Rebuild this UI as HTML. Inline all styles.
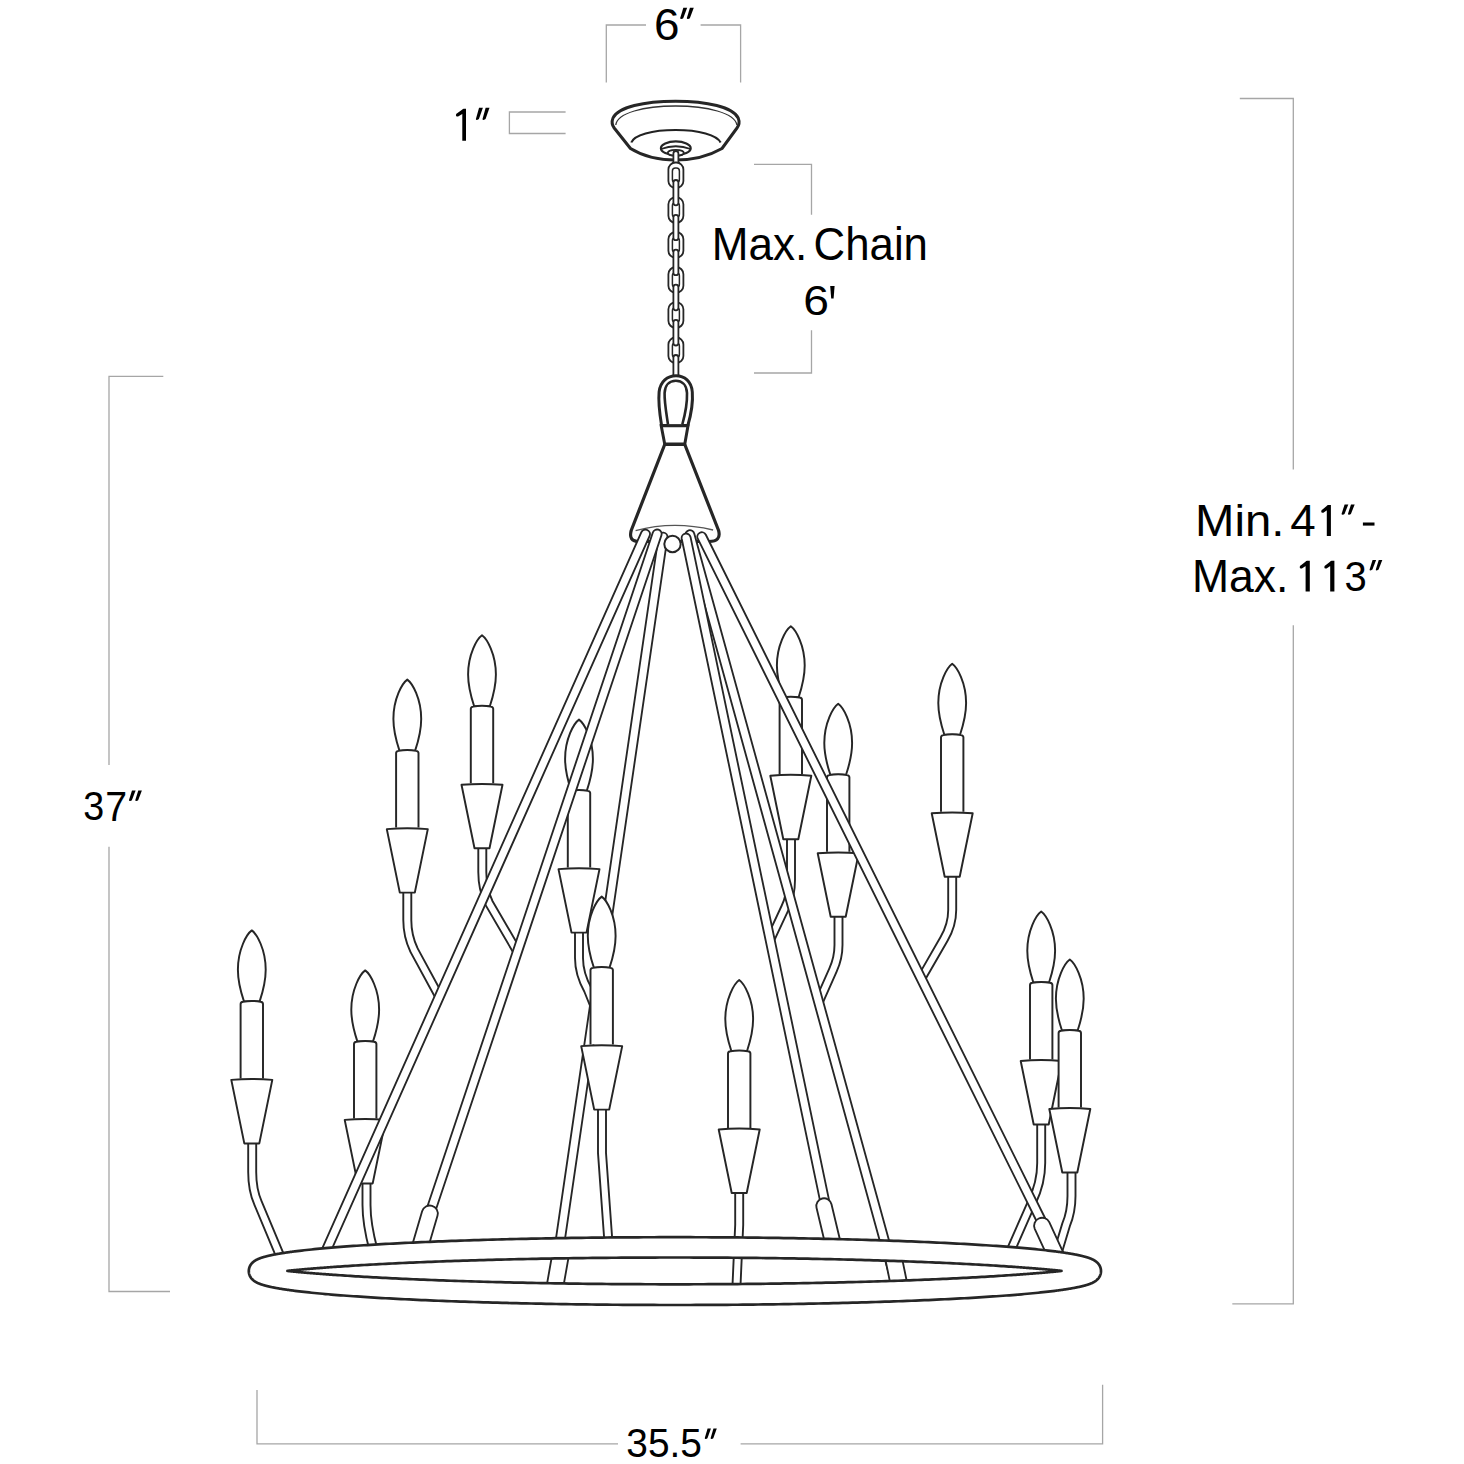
<!DOCTYPE html>
<html><head><meta charset="utf-8"><style>
html,body{margin:0;padding:0;background:#fff;}
svg{display:block;}
</style></head><body>
<svg width="1464" height="1464" viewBox="0 0 1464 1464">
<rect width="1464" height="1464" fill="#fff"/>
<path d="M606.3,82.5 V25 H646 M700.6,25 H740.6 V82.5" fill="none" stroke="#a6a6a6" stroke-width="1.3"/>
<path d="M565.6,112 H509.4 V133.5 H565.6" fill="none" stroke="#a6a6a6" stroke-width="1.3"/>
<path d="M754,164.4 H811.5 V214.8 M811.5,330.3 V373 H754" fill="none" stroke="#a6a6a6" stroke-width="1.3"/>
<path d="M1239.8,98.5 H1293.3 V469.5 M1293.3,625.2 V1303.9 H1232.3" fill="none" stroke="#a6a6a6" stroke-width="1.3"/>
<path d="M163.3,376.4 H109 V765 M109,846.7 V1291.5 H170" fill="none" stroke="#a6a6a6" stroke-width="1.3"/>
<path d="M257,1390 V1443.9 H618 M740.6,1443.9 H1102.6 V1384.7" fill="none" stroke="#a6a6a6" stroke-width="1.3"/>
<path d="M614.2,128 Q610.8,123.5 613,118 C618,107 644,101.2 675.6,101.2 C707,101.2 733,107 738.2,118 Q740.4,123.5 737,128 L722,148.5 Q702,160 675.6,160 Q649,160 630.5,148.5 Z" fill="#fff" stroke="#262626" stroke-width="3"/>
<path d="M615.8,125 C617,113 644,106 675.6,106 C707,106 735,113 736.9,125" fill="none" stroke="#333" stroke-width="1.3"/>
<path d="M631.3,142.5 C634,135 652,130 675.6,130 C699,130 717,135 720.6,142.5" fill="none" stroke="#222" stroke-width="2.2"/>
<ellipse cx="675.8" cy="148.2" rx="14.9" ry="6.8" fill="#fff" stroke="#262626" stroke-width="2.2"/>
<path d="M661,149 Q675.8,143.5 690.6,149" fill="none" stroke="#262626" stroke-width="1.8"/>
<ellipse cx="675.8" cy="152.8" rx="8" ry="3" fill="#fff" stroke="#262626" stroke-width="1.8"/>
<rect x="673.4" y="151" width="5" height="18.5" rx="2.5" fill="#fff" stroke="#262626" stroke-width="1.8"/>
<rect x="668.4" y="162.5" width="15" height="25.5" rx="7" fill="#fff" stroke="#262626" stroke-width="1.8"/>
<rect x="672.4" y="168.0" width="7" height="14.5" rx="3" fill="#fff" stroke="#262626" stroke-width="1.5"/>
<rect x="668.4" y="197.3" width="15" height="25.5" rx="7" fill="#fff" stroke="#262626" stroke-width="1.8"/>
<rect x="672.4" y="202.8" width="7" height="14.5" rx="3" fill="#fff" stroke="#262626" stroke-width="1.5"/>
<rect x="668.4" y="232.2" width="15" height="25.5" rx="7" fill="#fff" stroke="#262626" stroke-width="1.8"/>
<rect x="672.4" y="237.7" width="7" height="14.5" rx="3" fill="#fff" stroke="#262626" stroke-width="1.5"/>
<rect x="668.4" y="267.2" width="15" height="25.5" rx="7" fill="#fff" stroke="#262626" stroke-width="1.8"/>
<rect x="672.4" y="272.7" width="7" height="14.5" rx="3" fill="#fff" stroke="#262626" stroke-width="1.5"/>
<rect x="668.4" y="302.3" width="15" height="25.5" rx="7" fill="#fff" stroke="#262626" stroke-width="1.8"/>
<rect x="672.4" y="307.8" width="7" height="14.5" rx="3" fill="#fff" stroke="#262626" stroke-width="1.5"/>
<rect x="668.4" y="337.5" width="15" height="25.5" rx="7" fill="#fff" stroke="#262626" stroke-width="1.8"/>
<rect x="672.4" y="343.0" width="7" height="14.5" rx="3" fill="#fff" stroke="#262626" stroke-width="1.5"/>
<rect x="673.4" y="180.0" width="5" height="25.30000000000001" rx="2.5" fill="#fff" stroke="#262626" stroke-width="1.8"/>
<rect x="673.4" y="214.8" width="5" height="25.399999999999977" rx="2.5" fill="#fff" stroke="#262626" stroke-width="1.8"/>
<rect x="673.4" y="249.7" width="5" height="25.5" rx="2.5" fill="#fff" stroke="#262626" stroke-width="1.8"/>
<rect x="673.4" y="284.7" width="5" height="25.600000000000023" rx="2.5" fill="#fff" stroke="#262626" stroke-width="1.8"/>
<rect x="673.4" y="319.8" width="5" height="25.69999999999999" rx="2.5" fill="#fff" stroke="#262626" stroke-width="1.8"/>
<rect x="673.4" y="355.0" width="5" height="25.0" rx="2.5" fill="#fff" stroke="#262626" stroke-width="1.8"/>
<path d="M661.6,425.6 C659.5,413 658.3,401 659.1,392 C660.3,381.5 667.5,375.8 676,375.8 C684.5,375.8 691.5,381.5 692.3,392 C693,401 691.5,413 687.8,425.6 Z" fill="#fff" stroke="#262626" stroke-width="3"/>
<path d="M668,424.5 C666.3,413 664.3,402 664.6,393 C665,385 669.5,380.8 675.8,380.8 C682,380.8 686.6,385 687,393 C687.3,402 685.5,413 682.3,424.5" fill="#fff" stroke="#262626" stroke-width="2.6"/>
<path d="M661.2,425.8 L688,425.8 L684.8,444 L664.7,444 Z" fill="#fff" stroke="#262626" stroke-width="3"/>
<path d="M664.7,444.5 L631.2,530.5 Q628.2,541.5 639,541.5 L709,541.5 Q721.5,541.5 718.6,530.5 L684.8,444.5 Z" fill="#fff" stroke="#262626" stroke-width="3.2" stroke-linejoin="round"/>
<path d="M635.6,530.7 Q673,520.5 713.1,530" fill="none" stroke="#555" stroke-width="1.3"/>
<path d="M407.3,888 L407.3,920 Q407.3,936 414,950 L439.3,996.6" fill="none" stroke="#262626" stroke-width="9.9"/>
<path d="M407.3,888 L407.3,920 Q407.3,936 414,950 L439.3,996.6" fill="none" stroke="#fff" stroke-width="6.1"/>
<path d="M407.3,679.6 C412.3,683.1 421.2,698.6 421.2,718.9 C421.2,731.6 417.8,742.6 415.15,750.6 L399.45,750.6 C396.8,742.6 393.4,731.6 393.4,718.9 C393.4,698.6 402.3,683.1 407.3,679.6 Z" fill="#fff" stroke="#262626" stroke-width="1.95" stroke-linejoin="round"/>
<path d="M396.1,827.6 L396.1,753.1 Q396.1,751.2 398.6,750.9 Q407.3,749.3 416,750.9 Q418.5,751.2 418.5,753.1 L418.5,827.6" fill="#fff" stroke="#262626" stroke-width="1.95" stroke-linejoin="round"/>
<path d="M386.8,829.1 Q407.3,827.3 427.8,829.1 L414.8,892.6 L399.8,892.6 Z" fill="#fff" stroke="#262626" stroke-width="1.95" stroke-linejoin="round"/>
<path d="M482.3,845 L482.3,872 Q482.3,889 489,903 L517.4,951.7" fill="none" stroke="#262626" stroke-width="9.9"/>
<path d="M482.3,845 L482.3,872 Q482.3,889 489,903 L517.4,951.7" fill="none" stroke="#fff" stroke-width="6.1"/>
<path d="M482,635.3 C487,638.8 495.9,654.3 495.9,674.6 C495.9,687.3 492.5,698.3 489.85,706.3 L474.15,706.3 C471.5,698.3 468.1,687.3 468.1,674.6 C468.1,654.3 477,638.8 482,635.3 Z" fill="#fff" stroke="#262626" stroke-width="1.95" stroke-linejoin="round"/>
<path d="M470.8,783.3 L470.8,708.8 Q470.8,706.9 473.3,706.6 Q482,705 490.7,706.6 Q493.2,706.9 493.2,708.8 L493.2,783.3" fill="#fff" stroke="#262626" stroke-width="1.95" stroke-linejoin="round"/>
<path d="M461.5,784.8 Q482,783 502.5,784.8 L489.5,848.3 L474.5,848.3 Z" fill="#fff" stroke="#262626" stroke-width="1.95" stroke-linejoin="round"/>
<path d="M579,928 L579,958 Q579,974 588,990 L596,1010" fill="none" stroke="#262626" stroke-width="9.9"/>
<path d="M579,928 L579,958 Q579,974 588,990 L596,1010" fill="none" stroke="#fff" stroke-width="6.1"/>
<path d="M579,719.6 C584,723.1 592.9,738.6 592.9,758.9 C592.9,771.6 589.5,782.6 586.85,790.6 L571.15,790.6 C568.5,782.6 565.1,771.6 565.1,758.9 C565.1,738.6 574,723.1 579,719.6 Z" fill="#fff" stroke="#262626" stroke-width="1.95" stroke-linejoin="round"/>
<path d="M567.8,867.6 L567.8,793.1 Q567.8,791.2 570.3,790.9 Q579,789.3 587.7,790.9 Q590.2,791.2 590.2,793.1 L590.2,867.6" fill="#fff" stroke="#262626" stroke-width="1.95" stroke-linejoin="round"/>
<path d="M558.5,869.1 Q579,867.3 599.5,869.1 L586.5,932.6 L571.5,932.6 Z" fill="#fff" stroke="#262626" stroke-width="1.95" stroke-linejoin="round"/>
<path d="M791,836 L791,880 Q791,896 785,908 L770.1,940" fill="none" stroke="#262626" stroke-width="9.9"/>
<path d="M791,836 L791,880 Q791,896 785,908 L770.1,940" fill="none" stroke="#fff" stroke-width="6.1"/>
<path d="M790.8,626.2 C795.8,629.7 804.7,645.2 804.7,665.5 C804.7,678.2 801.3,689.2 798.65,697.2 L782.95,697.2 C780.3,689.2 776.9,678.2 776.9,665.5 C776.9,645.2 785.8,629.7 790.8,626.2 Z" fill="#fff" stroke="#262626" stroke-width="1.95" stroke-linejoin="round"/>
<path d="M779.6,774.2 L779.6,699.7 Q779.6,697.8 782.1,697.5 Q790.8,695.9 799.5,697.5 Q802,697.8 802,699.7 L802,774.2" fill="#fff" stroke="#262626" stroke-width="1.95" stroke-linejoin="round"/>
<path d="M770.3,775.7 Q790.8,773.9 811.3,775.7 L798.3,839.2 L783.3,839.2 Z" fill="#fff" stroke="#262626" stroke-width="1.95" stroke-linejoin="round"/>
<path d="M838.5,913 L838.5,945 Q838.5,958 833,970 L818.7,1002.2" fill="none" stroke="#262626" stroke-width="9.9"/>
<path d="M838.5,913 L838.5,945 Q838.5,958 833,970 L818.7,1002.2" fill="none" stroke="#fff" stroke-width="6.1"/>
<path d="M838.2,703.8 C843.2,707.3 852.1,722.8 852.1,743.1 C852.1,755.8 848.7,766.8 846.05,774.8 L830.35,774.8 C827.7,766.8 824.3,755.8 824.3,743.1 C824.3,722.8 833.2,707.3 838.2,703.8 Z" fill="#fff" stroke="#262626" stroke-width="1.95" stroke-linejoin="round"/>
<path d="M827,851.8 L827,777.3 Q827,775.4 829.5,775.1 Q838.2,773.5 846.9,775.1 Q849.4,775.4 849.4,777.3 L849.4,851.8" fill="#fff" stroke="#262626" stroke-width="1.95" stroke-linejoin="round"/>
<path d="M817.7,853.3 Q838.2,851.5 858.7,853.3 L845.7,916.8 L830.7,916.8 Z" fill="#fff" stroke="#262626" stroke-width="1.95" stroke-linejoin="round"/>
<path d="M952.2,873 L952.2,910 Q952.2,925 944,939 L921.2,978.6" fill="none" stroke="#262626" stroke-width="9.9"/>
<path d="M952.2,873 L952.2,910 Q952.2,925 944,939 L921.2,978.6" fill="none" stroke="#fff" stroke-width="6.1"/>
<path d="M952.2,663.8 C957.2,667.3 966.1,682.8 966.1,703.1 C966.1,715.8 962.7,726.8 960.05,734.8 L944.35,734.8 C941.7,726.8 938.3,715.8 938.3,703.1 C938.3,682.8 947.2,667.3 952.2,663.8 Z" fill="#fff" stroke="#262626" stroke-width="1.95" stroke-linejoin="round"/>
<path d="M941,811.8 L941,737.3 Q941,735.4 943.5,735.1 Q952.2,733.5 960.9,735.1 Q963.4,735.4 963.4,737.3 L963.4,811.8" fill="#fff" stroke="#262626" stroke-width="1.95" stroke-linejoin="round"/>
<path d="M931.7,813.3 Q952.2,811.5 972.7,813.3 L959.7,876.8 L944.7,876.8 Z" fill="#fff" stroke="#262626" stroke-width="1.95" stroke-linejoin="round"/>
<path d="M366.5,1180 L366.5,1205 Q366.5,1224 373.5,1250" fill="none" stroke="#262626" stroke-width="9.9"/>
<path d="M366.5,1180 L366.5,1205 Q366.5,1224 373.5,1250" fill="none" stroke="#fff" stroke-width="6.1"/>
<path d="M365.2,970.4 C370.2,973.9 379.1,989.4 379.1,1009.7 C379.1,1022.4 375.7,1033.4 373.05,1041.4 L357.35,1041.4 C354.7,1033.4 351.3,1022.4 351.3,1009.7 C351.3,989.4 360.2,973.9 365.2,970.4 Z" fill="#fff" stroke="#262626" stroke-width="1.95" stroke-linejoin="round"/>
<path d="M354,1118.4 L354,1043.9 Q354,1042 356.5,1041.7 Q365.2,1040.1 373.9,1041.7 Q376.4,1042 376.4,1043.9 L376.4,1118.4" fill="#fff" stroke="#262626" stroke-width="1.95" stroke-linejoin="round"/>
<path d="M344.7,1119.9 Q365.2,1118.1 385.7,1119.9 L372.7,1183.4 L357.7,1183.4 Z" fill="#fff" stroke="#262626" stroke-width="1.95" stroke-linejoin="round"/>
<path d="M1041.2,1121 L1041.2,1163 Q1041.2,1183 1032,1202 L1010,1252" fill="none" stroke="#262626" stroke-width="9.9"/>
<path d="M1041.2,1121 L1041.2,1163 Q1041.2,1183 1032,1202 L1010,1252" fill="none" stroke="#fff" stroke-width="6.1"/>
<path d="M1041.2,911.5 C1046.2,915 1055.1,930.5 1055.1,950.8 C1055.1,963.5 1051.7,974.5 1049.05,982.5 L1033.35,982.5 C1030.7,974.5 1027.3,963.5 1027.3,950.8 C1027.3,930.5 1036.2,915 1041.2,911.5 Z" fill="#fff" stroke="#262626" stroke-width="1.95" stroke-linejoin="round"/>
<path d="M1030,1059.5 L1030,985 Q1030,983.1 1032.5,982.8 Q1041.2,981.2 1049.9,982.8 Q1052.4,983.1 1052.4,985 L1052.4,1059.5" fill="#fff" stroke="#262626" stroke-width="1.95" stroke-linejoin="round"/>
<path d="M1020.7,1061 Q1041.2,1059.2 1061.7,1061 L1048.7,1124.5 L1033.7,1124.5 Z" fill="#fff" stroke="#262626" stroke-width="1.95" stroke-linejoin="round"/>
<path d="M1071.5,1170 L1071.5,1196 Q1071.5,1212 1066,1225 L1057,1255" fill="none" stroke="#262626" stroke-width="9.9"/>
<path d="M1071.5,1170 L1071.5,1196 Q1071.5,1212 1066,1225 L1057,1255" fill="none" stroke="#fff" stroke-width="6.1"/>
<path d="M1069.8,959.5 C1074.8,963 1083.7,978.5 1083.7,998.8 C1083.7,1011.5 1080.3,1022.5 1077.65,1030.5 L1061.95,1030.5 C1059.3,1022.5 1055.9,1011.5 1055.9,998.8 C1055.9,978.5 1064.8,963 1069.8,959.5 Z" fill="#fff" stroke="#262626" stroke-width="1.95" stroke-linejoin="round"/>
<path d="M1058.6,1107.5 L1058.6,1033 Q1058.6,1031.1 1061.1,1030.8 Q1069.8,1029.2 1078.5,1030.8 Q1081,1031.1 1081,1033 L1081,1107.5" fill="#fff" stroke="#262626" stroke-width="1.95" stroke-linejoin="round"/>
<path d="M1049.3,1109 Q1069.8,1107.2 1090.3,1109 L1077.3,1172.5 L1062.3,1172.5 Z" fill="#fff" stroke="#262626" stroke-width="1.95" stroke-linejoin="round"/>
<path d="M548.55,1289.35 L658.55,536.35 A4.5,4.5 0 0 1 667.45,537.65 L557.45,1290.65" fill="#fff" stroke="#262626" stroke-width="1.85" stroke-linejoin="round"/>
<path d="M426.73,1208.57 L652.83,532.57 A4.5,4.5 0 0 1 661.37,535.43 L435.27,1211.43" fill="#fff" stroke="#262626" stroke-width="1.85" stroke-linejoin="round"/>
<path d="M317.89,1258.17 L641.39,532.17 A4.5,4.5 0 0 1 649.61,535.83 L326.11,1261.83" fill="#fff" stroke="#262626" stroke-width="1.85" stroke-linejoin="round"/>
<path d="M893.66,1291.2 L685.56,535.9 A4.5,4.5 0 0 1 694.24,533.5 L902.34,1288.8" fill="#fff" stroke="#262626" stroke-width="1.85" stroke-linejoin="round"/>
<path d="M821.1,1205.92 L681.7,538.72 A4.5,4.5 0 0 1 690.5,536.88 L829.9,1204.08" fill="#fff" stroke="#262626" stroke-width="1.85" stroke-linejoin="round"/>
<path d="M1037.97,1224 L697.77,538.7 A4.5,4.5 0 0 1 705.83,534.7 L1046.03,1220" fill="#fff" stroke="#262626" stroke-width="1.85" stroke-linejoin="round"/>
<path d="M410.82,1249.75 L422.12,1211.25 A8,8 0 0 1 437.48,1215.75 L426.18,1254.25" fill="#fff" stroke="#262626" stroke-width="1.85" stroke-linejoin="round"/>
<path d="M827.01,1251.79 L816.51,1207.79 A7.7,7.7 0 0 1 831.49,1204.21 L841.99,1248.21" fill="#fff" stroke="#262626" stroke-width="1.85" stroke-linejoin="round"/>
<path d="M1049.74,1261.35 L1034.74,1228.85 A8,8 0 0 1 1049.26,1222.15 L1064.26,1254.65" fill="#fff" stroke="#262626" stroke-width="1.85" stroke-linejoin="round"/>
<path d="M892.37,1293.66 L883.57,1250.66 L899.83,1247.34 L908.63,1290.34 Z" fill="#fff"/>
<path d="M892.37,1293.66 L883.57,1250.66 M899.83,1247.34 L908.63,1290.34" fill="none" stroke="#262626" stroke-width="1.85"/>
<path d="M545.83,1290.56 L553.43,1247.56 L569.77,1250.44 L562.17,1293.44 Z" fill="#fff"/>
<path d="M545.83,1290.56 L553.43,1247.56 M569.77,1250.44 L562.17,1293.44" fill="none" stroke="#262626" stroke-width="1.85"/>
<circle cx="672.5" cy="544" r="8.2" fill="#fff" stroke="#262626" stroke-width="2"/>
<path d="M252.2,1140 L252.2,1172 Q252.2,1190 258,1203 L281,1258" fill="none" stroke="#262626" stroke-width="9.9"/>
<path d="M252.2,1140 L252.2,1172 Q252.2,1190 258,1203 L281,1258" fill="none" stroke="#fff" stroke-width="6.1"/>
<path d="M251.8,930.4 C256.8,933.9 265.7,949.4 265.7,969.7 C265.7,982.4 262.3,993.4 259.65,1001.4 L243.95,1001.4 C241.3,993.4 237.9,982.4 237.9,969.7 C237.9,949.4 246.8,933.9 251.8,930.4 Z" fill="#fff" stroke="#262626" stroke-width="1.95" stroke-linejoin="round"/>
<path d="M240.6,1078.4 L240.6,1003.9 Q240.6,1002 243.1,1001.7 Q251.8,1000.1 260.5,1001.7 Q263,1002 263,1003.9 L263,1078.4" fill="#fff" stroke="#262626" stroke-width="1.95" stroke-linejoin="round"/>
<path d="M231.3,1079.9 Q251.8,1078.1 272.3,1079.9 L259.3,1143.4 L244.3,1143.4 Z" fill="#fff" stroke="#262626" stroke-width="1.95" stroke-linejoin="round"/>
<path d="M602,1106 L602,1153 L609,1250" fill="none" stroke="#262626" stroke-width="9.9"/>
<path d="M602,1106 L602,1153 L609,1250" fill="none" stroke="#fff" stroke-width="6.1"/>
<path d="M601.7,896.6 C606.7,900.1 615.6,915.6 615.6,935.9 C615.6,948.6 612.2,959.6 609.55,967.6 L593.85,967.6 C591.2,959.6 587.8,948.6 587.8,935.9 C587.8,915.6 596.7,900.1 601.7,896.6 Z" fill="#fff" stroke="#262626" stroke-width="1.95" stroke-linejoin="round"/>
<path d="M590.5,1044.6 L590.5,970.1 Q590.5,968.2 593,967.9 Q601.7,966.3 610.4,967.9 Q612.9,968.2 612.9,970.1 L612.9,1044.6" fill="#fff" stroke="#262626" stroke-width="1.95" stroke-linejoin="round"/>
<path d="M581.2,1046.1 Q601.7,1044.3 622.2,1046.1 L609.2,1109.6 L594.2,1109.6 Z" fill="#fff" stroke="#262626" stroke-width="1.95" stroke-linejoin="round"/>
<path d="M739.2,1190 L739.2,1225 L736.2,1292" fill="none" stroke="#262626" stroke-width="9.9"/>
<path d="M739.2,1190 L739.2,1225 L736.2,1292" fill="none" stroke="#fff" stroke-width="6.1"/>
<path d="M739.2,980 C744.2,983.5 753.1,999 753.1,1019.3 C753.1,1032 749.7,1043 747.05,1051 L731.35,1051 C728.7,1043 725.3,1032 725.3,1019.3 C725.3,999 734.2,983.5 739.2,980 Z" fill="#fff" stroke="#262626" stroke-width="1.95" stroke-linejoin="round"/>
<path d="M728,1128 L728,1053.5 Q728,1051.6 730.5,1051.3 Q739.2,1049.7 747.9,1051.3 Q750.4,1051.6 750.4,1053.5 L750.4,1128" fill="#fff" stroke="#262626" stroke-width="1.95" stroke-linejoin="round"/>
<path d="M718.7,1129.5 Q739.2,1127.7 759.7,1129.5 L746.7,1193 L731.7,1193 Z" fill="#fff" stroke="#262626" stroke-width="1.95" stroke-linejoin="round"/>
<path d="M1101,1271.1 L1100.98,1271.71 L1100.93,1272.31 L1100.85,1272.9 L1100.74,1273.48 L1100.61,1274.05 L1100.44,1274.59 L1100.26,1275.11 L1100.06,1275.61 L1099.84,1276.08 L1099.61,1276.53 L1099.37,1276.96 L1099.12,1277.36 L1098.86,1277.74 L1098.6,1278.09 L1098.34,1278.42 L1098.07,1278.74 L1097.81,1279.03 L1097.54,1279.31 L1097.28,1279.58 L1097.01,1279.82 L1096.75,1280.06 L1096.49,1280.28 L1096.23,1280.49 L1095.98,1280.69 L1095.72,1280.89 L1095.47,1281.07 L1095.22,1281.24 L1094.97,1281.41 L1094.72,1281.57 L1094.47,1281.73 L1094.22,1281.87 L1093.98,1282.02 L1093.73,1282.16 L1093.48,1282.29 L1093.24,1282.42 L1092.99,1282.55 L1092.74,1282.68 L1092.5,1282.8 L1092.25,1282.91 L1092,1283.03 L1091.75,1283.14 L1091.5,1283.25 L1091.25,1283.36 L1090.99,1283.47 L1090.74,1283.57 L1090.48,1283.68 L1090.22,1283.78 L1089.96,1283.88 L1089.7,1283.98 L1089.44,1284.07 L1089.17,1284.17 L1088.9,1284.27 L1088.63,1284.36 L1088.36,1284.45 L1088.09,1284.55 L1087.81,1284.64 L1087.53,1284.73 L1087.25,1284.82 L1086.96,1284.91 L1086.67,1284.99 L1086.38,1285.08 L1086.09,1285.17 L1085.79,1285.25 L1085.49,1285.34 L1085.19,1285.43 L1084.88,1285.51 L1084.57,1285.59 L1084.26,1285.68 L1083.95,1285.76 L1083.63,1285.84 L1083.31,1285.93 L1082.99,1286.01 L1082.66,1286.09 L1082.33,1286.17 L1081.99,1286.25 L1081.66,1286.33 L1081.32,1286.41 L1080.97,1286.49 L1080.63,1286.57 L1080.28,1286.65 L1079.92,1286.73 L1079.57,1286.81 L1079.21,1286.89 L1078.84,1286.97 L1078.47,1287.05 L1078.1,1287.13 L1077.73,1287.2 L1077.35,1287.28 L1076.97,1287.36 L1076.59,1287.43 L1076.2,1287.51 L1075.81,1287.59 L1075.41,1287.66 L1075.01,1287.74 L1074.61,1287.82 L1074.2,1287.89 L1073.79,1287.97 L1073.38,1288.04 L1072.96,1288.12 L1072.54,1288.2 L1072.12,1288.27 L1071.69,1288.35 L1071.26,1288.42 L1070.83,1288.49 L1070.39,1288.57 L1069.95,1288.64 L1069.5,1288.72 L1069.05,1288.79 L1068.6,1288.87 L1068.14,1288.94 L1067.68,1289.01 L1067.22,1289.09 L1066.75,1289.16 L1066.28,1289.23 L1065.81,1289.31 L1065.33,1289.38 L1064.85,1289.45 L1064.36,1289.52 L1063.88,1289.6 L1063.38,1289.67 L1062.89,1289.74 L1062.39,1289.81 L1061.88,1289.88 L1061.38,1289.96 L1060.87,1290.03 L1060.35,1290.1 L1059.84,1290.17 L1059.31,1290.24 L1058.79,1290.31 L1058.26,1290.38 L1057.73,1290.46 L1057.19,1290.53 L1056.65,1290.6 L1056.11,1290.67 L1055.56,1290.74 L1055.01,1290.81 L1052.78,1291.09 L1050.48,1291.37 L1048.13,1291.64 L1045.72,1291.92 L1043.26,1292.19 L1040.73,1292.46 L1038.15,1292.72 L1035.52,1292.99 L1032.83,1293.25 L1030.08,1293.51 L1027.28,1293.77 L1024.43,1294.03 L1021.52,1294.28 L1018.56,1294.54 L1015.54,1294.79 L1012.47,1295.03 L1009.35,1295.28 L1006.18,1295.52 L1002.95,1295.76 L999.68,1296 L996.35,1296.24 L992.97,1296.47 L989.55,1296.7 L986.07,1296.93 L982.55,1297.16 L978.97,1297.38 L975.35,1297.6 L971.69,1297.82 L967.97,1298.03 L964.21,1298.24 L960.41,1298.45 L956.56,1298.66 L952.67,1298.86 L948.73,1299.07 L944.75,1299.26 L940.73,1299.46 L936.66,1299.65 L932.56,1299.84 L928.42,1300.03 L924.23,1300.21 L920.01,1300.39 L915.74,1300.57 L911.44,1300.74 L907.11,1300.91 L902.73,1301.08 L898.32,1301.24 L893.88,1301.4 L889.4,1301.56 L884.89,1301.71 L880.34,1301.87 L875.77,1302.01 L871.16,1302.16 L866.52,1302.3 L861.85,1302.44 L857.15,1302.57 L852.42,1302.7 L847.66,1302.83 L842.88,1302.95 L838.07,1303.07 L833.23,1303.19 L828.37,1303.31 L823.49,1303.41 L818.58,1303.52 L813.65,1303.62 L808.7,1303.72 L803.73,1303.82 L798.73,1303.91 L793.72,1304 L788.69,1304.08 L783.64,1304.16 L778.58,1304.24 L773.49,1304.32 L768.39,1304.39 L763.28,1304.45 L758.15,1304.51 L753.02,1304.57 L747.86,1304.63 L742.7,1304.68 L737.53,1304.73 L732.34,1304.77 L727.15,1304.81 L721.95,1304.85 L716.74,1304.88 L711.52,1304.91 L706.3,1304.93 L701.08,1304.95 L695.85,1304.97 L690.61,1304.98 L685.38,1304.99 L680.14,1305 L674.9,1305 L669.66,1305 L664.42,1304.99 L659.19,1304.98 L653.95,1304.97 L648.72,1304.95 L643.5,1304.93 L638.28,1304.91 L633.06,1304.88 L627.85,1304.85 L622.65,1304.81 L617.46,1304.77 L612.27,1304.73 L607.1,1304.68 L601.94,1304.63 L596.78,1304.57 L591.65,1304.51 L586.52,1304.45 L581.41,1304.39 L576.31,1304.32 L571.22,1304.24 L566.16,1304.16 L561.11,1304.08 L556.08,1304 L551.07,1303.91 L546.07,1303.82 L541.1,1303.72 L536.15,1303.62 L531.22,1303.52 L526.31,1303.41 L521.43,1303.31 L516.57,1303.19 L511.73,1303.07 L506.92,1302.95 L502.14,1302.83 L497.38,1302.7 L492.65,1302.57 L487.95,1302.44 L483.28,1302.3 L478.64,1302.16 L474.03,1302.01 L469.46,1301.87 L464.91,1301.71 L460.4,1301.56 L455.92,1301.4 L451.48,1301.24 L447.07,1301.08 L442.69,1300.91 L438.36,1300.74 L434.06,1300.57 L429.79,1300.39 L425.57,1300.21 L421.38,1300.03 L417.24,1299.84 L413.14,1299.65 L409.07,1299.46 L405.05,1299.26 L401.07,1299.07 L397.13,1298.86 L393.24,1298.66 L389.39,1298.45 L385.59,1298.24 L381.83,1298.03 L378.11,1297.82 L374.45,1297.6 L370.83,1297.38 L367.25,1297.16 L363.73,1296.93 L360.25,1296.7 L356.83,1296.47 L353.45,1296.24 L350.12,1296 L346.85,1295.76 L343.62,1295.52 L340.45,1295.28 L337.33,1295.03 L334.26,1294.79 L331.24,1294.54 L328.28,1294.28 L325.37,1294.03 L322.52,1293.77 L319.72,1293.51 L316.97,1293.25 L314.28,1292.99 L311.65,1292.72 L309.07,1292.46 L306.54,1292.19 L304.08,1291.92 L301.67,1291.64 L299.32,1291.37 L297.02,1291.09 L294.79,1290.81 L294.24,1290.74 L293.69,1290.67 L293.15,1290.6 L292.61,1290.53 L292.07,1290.46 L291.54,1290.38 L291.01,1290.31 L290.49,1290.24 L289.96,1290.17 L289.45,1290.1 L288.93,1290.03 L288.42,1289.96 L287.92,1289.88 L287.41,1289.81 L286.91,1289.74 L286.42,1289.67 L285.92,1289.6 L285.44,1289.52 L284.95,1289.45 L284.47,1289.38 L283.99,1289.31 L283.52,1289.23 L283.05,1289.16 L282.58,1289.09 L282.12,1289.01 L281.66,1288.94 L281.2,1288.87 L280.75,1288.79 L280.3,1288.72 L279.85,1288.64 L279.41,1288.57 L278.97,1288.49 L278.54,1288.42 L278.11,1288.35 L277.68,1288.27 L277.26,1288.2 L276.84,1288.12 L276.42,1288.04 L276.01,1287.97 L275.6,1287.89 L275.19,1287.82 L274.79,1287.74 L274.39,1287.66 L273.99,1287.59 L273.6,1287.51 L273.21,1287.43 L272.83,1287.36 L272.45,1287.28 L272.07,1287.2 L271.7,1287.13 L271.33,1287.05 L270.96,1286.97 L270.59,1286.89 L270.23,1286.81 L269.88,1286.73 L269.52,1286.65 L269.17,1286.57 L268.83,1286.49 L268.48,1286.41 L268.14,1286.33 L267.81,1286.25 L267.47,1286.17 L267.14,1286.09 L266.81,1286.01 L266.49,1285.93 L266.17,1285.84 L265.85,1285.76 L265.54,1285.68 L265.23,1285.59 L264.92,1285.51 L264.61,1285.43 L264.31,1285.34 L264.01,1285.25 L263.71,1285.17 L263.42,1285.08 L263.13,1284.99 L262.84,1284.91 L262.55,1284.82 L262.27,1284.73 L261.99,1284.64 L261.71,1284.55 L261.44,1284.45 L261.17,1284.36 L260.9,1284.27 L260.63,1284.17 L260.36,1284.07 L260.1,1283.98 L259.84,1283.88 L259.58,1283.78 L259.32,1283.68 L259.06,1283.57 L258.81,1283.47 L258.55,1283.36 L258.3,1283.25 L258.05,1283.14 L257.8,1283.03 L257.55,1282.91 L257.3,1282.8 L257.06,1282.68 L256.81,1282.55 L256.56,1282.42 L256.32,1282.29 L256.07,1282.16 L255.82,1282.02 L255.58,1281.87 L255.33,1281.73 L255.08,1281.57 L254.83,1281.41 L254.58,1281.24 L254.33,1281.07 L254.08,1280.89 L253.82,1280.69 L253.57,1280.49 L253.31,1280.28 L253.05,1280.06 L252.79,1279.82 L252.52,1279.58 L252.26,1279.31 L251.99,1279.03 L251.73,1278.74 L251.46,1278.42 L251.2,1278.09 L250.94,1277.74 L250.68,1277.36 L250.43,1276.96 L250.19,1276.53 L249.96,1276.08 L249.74,1275.61 L249.54,1275.11 L249.36,1274.59 L249.19,1274.05 L249.06,1273.48 L248.95,1272.9 L248.87,1272.31 L248.82,1271.71 L248.8,1271.1 L248.82,1270.49 L248.87,1269.89 L248.95,1269.3 L249.06,1268.72 L249.19,1268.15 L249.36,1267.61 L249.54,1267.09 L249.74,1266.59 L249.96,1266.12 L250.19,1265.67 L250.43,1265.24 L250.68,1264.84 L250.94,1264.46 L251.2,1264.11 L251.46,1263.78 L251.73,1263.46 L251.99,1263.17 L252.26,1262.89 L252.52,1262.62 L252.79,1262.38 L253.05,1262.14 L253.31,1261.92 L253.57,1261.71 L253.82,1261.51 L254.08,1261.31 L254.33,1261.13 L254.58,1260.96 L254.83,1260.79 L255.08,1260.63 L255.33,1260.47 L255.58,1260.33 L255.82,1260.18 L256.07,1260.04 L256.32,1259.91 L256.56,1259.78 L256.81,1259.65 L257.06,1259.52 L257.3,1259.4 L257.55,1259.29 L257.8,1259.17 L258.05,1259.06 L258.3,1258.95 L258.55,1258.84 L258.81,1258.73 L259.06,1258.63 L259.32,1258.52 L259.58,1258.42 L259.84,1258.32 L260.1,1258.22 L260.36,1258.13 L260.63,1258.03 L260.9,1257.93 L261.17,1257.84 L261.44,1257.75 L261.71,1257.65 L261.99,1257.56 L262.27,1257.47 L262.55,1257.38 L262.84,1257.29 L263.13,1257.21 L263.42,1257.12 L263.71,1257.03 L264.01,1256.95 L264.31,1256.86 L264.61,1256.77 L264.92,1256.69 L265.23,1256.61 L265.54,1256.52 L265.85,1256.44 L266.17,1256.36 L266.49,1256.27 L266.81,1256.19 L267.14,1256.11 L267.47,1256.03 L267.81,1255.95 L268.14,1255.87 L268.48,1255.79 L268.83,1255.71 L269.17,1255.63 L269.52,1255.55 L269.88,1255.47 L270.23,1255.39 L270.59,1255.31 L270.96,1255.23 L271.33,1255.15 L271.7,1255.07 L272.07,1255 L272.45,1254.92 L272.83,1254.84 L273.21,1254.77 L273.6,1254.69 L273.99,1254.61 L274.39,1254.54 L274.79,1254.46 L275.19,1254.38 L275.6,1254.31 L276.01,1254.23 L276.42,1254.16 L276.84,1254.08 L277.26,1254 L277.68,1253.93 L278.11,1253.85 L278.54,1253.78 L278.97,1253.71 L279.41,1253.63 L279.85,1253.56 L280.3,1253.48 L280.75,1253.41 L281.2,1253.33 L281.66,1253.26 L282.12,1253.19 L282.58,1253.11 L283.05,1253.04 L283.52,1252.97 L283.99,1252.89 L284.47,1252.82 L284.95,1252.75 L285.44,1252.68 L285.92,1252.6 L286.42,1252.53 L286.91,1252.46 L287.41,1252.39 L287.92,1252.32 L288.42,1252.24 L288.93,1252.17 L289.45,1252.1 L289.96,1252.03 L290.49,1251.96 L291.01,1251.89 L291.54,1251.82 L292.07,1251.74 L292.61,1251.67 L293.15,1251.6 L293.69,1251.53 L294.24,1251.46 L294.79,1251.39 L297.02,1251.11 L299.32,1250.83 L301.67,1250.56 L304.08,1250.28 L306.54,1250.01 L309.07,1249.74 L311.65,1249.48 L314.28,1249.21 L316.97,1248.95 L319.72,1248.69 L322.52,1248.43 L325.37,1248.17 L328.28,1247.92 L331.24,1247.66 L334.26,1247.41 L337.33,1247.17 L340.45,1246.92 L343.62,1246.68 L346.85,1246.44 L350.12,1246.2 L353.45,1245.96 L356.83,1245.73 L360.25,1245.5 L363.73,1245.27 L367.25,1245.04 L370.83,1244.82 L374.45,1244.6 L378.11,1244.38 L381.83,1244.17 L385.59,1243.96 L389.39,1243.75 L393.24,1243.54 L397.13,1243.34 L401.07,1243.13 L405.05,1242.94 L409.07,1242.74 L413.14,1242.55 L417.24,1242.36 L421.38,1242.17 L425.57,1241.99 L429.79,1241.81 L434.06,1241.63 L438.36,1241.46 L442.69,1241.29 L447.07,1241.12 L451.48,1240.96 L455.92,1240.8 L460.4,1240.64 L464.91,1240.49 L469.46,1240.33 L474.03,1240.19 L478.64,1240.04 L483.28,1239.9 L487.95,1239.76 L492.65,1239.63 L497.38,1239.5 L502.14,1239.37 L506.92,1239.25 L511.73,1239.13 L516.57,1239.01 L521.43,1238.89 L526.31,1238.79 L531.22,1238.68 L536.15,1238.58 L541.1,1238.48 L546.07,1238.38 L551.07,1238.29 L556.08,1238.2 L561.11,1238.12 L566.16,1238.04 L571.22,1237.96 L576.31,1237.88 L581.41,1237.81 L586.52,1237.75 L591.65,1237.69 L596.78,1237.63 L601.94,1237.57 L607.1,1237.52 L612.27,1237.47 L617.46,1237.43 L622.65,1237.39 L627.85,1237.35 L633.06,1237.32 L638.28,1237.29 L643.5,1237.27 L648.72,1237.25 L653.95,1237.23 L659.19,1237.22 L664.42,1237.21 L669.66,1237.2 L674.9,1237.2 L680.14,1237.2 L685.38,1237.21 L690.61,1237.22 L695.85,1237.23 L701.08,1237.25 L706.3,1237.27 L711.52,1237.29 L716.74,1237.32 L721.95,1237.35 L727.15,1237.39 L732.34,1237.43 L737.53,1237.47 L742.7,1237.52 L747.86,1237.57 L753.02,1237.63 L758.15,1237.69 L763.28,1237.75 L768.39,1237.81 L773.49,1237.88 L778.58,1237.96 L783.64,1238.04 L788.69,1238.12 L793.72,1238.2 L798.73,1238.29 L803.73,1238.38 L808.7,1238.48 L813.65,1238.58 L818.58,1238.68 L823.49,1238.79 L828.37,1238.89 L833.23,1239.01 L838.07,1239.13 L842.88,1239.25 L847.66,1239.37 L852.42,1239.5 L857.15,1239.63 L861.85,1239.76 L866.52,1239.9 L871.16,1240.04 L875.77,1240.19 L880.34,1240.33 L884.89,1240.49 L889.4,1240.64 L893.88,1240.8 L898.32,1240.96 L902.73,1241.12 L907.11,1241.29 L911.44,1241.46 L915.74,1241.63 L920.01,1241.81 L924.23,1241.99 L928.42,1242.17 L932.56,1242.36 L936.66,1242.55 L940.73,1242.74 L944.75,1242.94 L948.73,1243.13 L952.67,1243.34 L956.56,1243.54 L960.41,1243.75 L964.21,1243.96 L967.97,1244.17 L971.69,1244.38 L975.35,1244.6 L978.97,1244.82 L982.55,1245.04 L986.07,1245.27 L989.55,1245.5 L992.97,1245.73 L996.35,1245.96 L999.68,1246.2 L1002.95,1246.44 L1006.18,1246.68 L1009.35,1246.92 L1012.47,1247.17 L1015.54,1247.41 L1018.56,1247.66 L1021.52,1247.92 L1024.43,1248.17 L1027.28,1248.43 L1030.08,1248.69 L1032.83,1248.95 L1035.52,1249.21 L1038.15,1249.48 L1040.73,1249.74 L1043.26,1250.01 L1045.72,1250.28 L1048.13,1250.56 L1050.48,1250.83 L1052.78,1251.11 L1055.01,1251.39 L1055.56,1251.46 L1056.11,1251.53 L1056.65,1251.6 L1057.19,1251.67 L1057.73,1251.74 L1058.26,1251.82 L1058.79,1251.89 L1059.31,1251.96 L1059.84,1252.03 L1060.35,1252.1 L1060.87,1252.17 L1061.38,1252.24 L1061.88,1252.32 L1062.39,1252.39 L1062.89,1252.46 L1063.38,1252.53 L1063.88,1252.6 L1064.36,1252.68 L1064.85,1252.75 L1065.33,1252.82 L1065.81,1252.89 L1066.28,1252.97 L1066.75,1253.04 L1067.22,1253.11 L1067.68,1253.19 L1068.14,1253.26 L1068.6,1253.33 L1069.05,1253.41 L1069.5,1253.48 L1069.95,1253.56 L1070.39,1253.63 L1070.83,1253.71 L1071.26,1253.78 L1071.69,1253.85 L1072.12,1253.93 L1072.54,1254 L1072.96,1254.08 L1073.38,1254.16 L1073.79,1254.23 L1074.2,1254.31 L1074.61,1254.38 L1075.01,1254.46 L1075.41,1254.54 L1075.81,1254.61 L1076.2,1254.69 L1076.59,1254.77 L1076.97,1254.84 L1077.35,1254.92 L1077.73,1255 L1078.1,1255.07 L1078.47,1255.15 L1078.84,1255.23 L1079.21,1255.31 L1079.57,1255.39 L1079.92,1255.47 L1080.28,1255.55 L1080.63,1255.63 L1080.97,1255.71 L1081.32,1255.79 L1081.66,1255.87 L1081.99,1255.95 L1082.33,1256.03 L1082.66,1256.11 L1082.99,1256.19 L1083.31,1256.27 L1083.63,1256.36 L1083.95,1256.44 L1084.26,1256.52 L1084.57,1256.61 L1084.88,1256.69 L1085.19,1256.77 L1085.49,1256.86 L1085.79,1256.95 L1086.09,1257.03 L1086.38,1257.12 L1086.67,1257.21 L1086.96,1257.29 L1087.25,1257.38 L1087.53,1257.47 L1087.81,1257.56 L1088.09,1257.65 L1088.36,1257.75 L1088.63,1257.84 L1088.9,1257.93 L1089.17,1258.03 L1089.44,1258.13 L1089.7,1258.22 L1089.96,1258.32 L1090.22,1258.42 L1090.48,1258.52 L1090.74,1258.63 L1090.99,1258.73 L1091.25,1258.84 L1091.5,1258.95 L1091.75,1259.06 L1092,1259.17 L1092.25,1259.29 L1092.5,1259.4 L1092.74,1259.52 L1092.99,1259.65 L1093.24,1259.78 L1093.48,1259.91 L1093.73,1260.04 L1093.98,1260.18 L1094.22,1260.33 L1094.47,1260.47 L1094.72,1260.63 L1094.97,1260.79 L1095.22,1260.96 L1095.47,1261.13 L1095.72,1261.31 L1095.98,1261.51 L1096.23,1261.71 L1096.49,1261.92 L1096.75,1262.14 L1097.01,1262.38 L1097.28,1262.62 L1097.54,1262.89 L1097.81,1263.17 L1098.07,1263.46 L1098.34,1263.78 L1098.6,1264.11 L1098.86,1264.46 L1099.12,1264.84 L1099.37,1265.24 L1099.61,1265.67 L1099.84,1266.12 L1100.06,1266.59 L1100.26,1267.09 L1100.44,1267.61 L1100.61,1268.15 L1100.74,1268.72 L1100.85,1269.3 L1100.93,1269.89 L1100.98,1270.49 Z M287.4,1270.9 L287.41,1270.9 L287.43,1270.89 L287.47,1270.89 L287.52,1270.88 L287.59,1270.87 L287.68,1270.86 L287.77,1270.84 L287.89,1270.83 L288.02,1270.81 L288.16,1270.79 L288.32,1270.77 L288.5,1270.75 L288.69,1270.73 L288.9,1270.7 L289.12,1270.68 L289.35,1270.65 L289.61,1270.62 L289.87,1270.6 L290.15,1270.56 L290.45,1270.53 L290.76,1270.5 L291.09,1270.47 L291.43,1270.43 L291.79,1270.39 L292.17,1270.36 L292.55,1270.32 L292.96,1270.28 L293.37,1270.24 L293.81,1270.2 L294.26,1270.15 L294.72,1270.11 L295.2,1270.06 L295.69,1270.02 L296.2,1269.97 L296.72,1269.92 L297.26,1269.87 L297.81,1269.82 L298.38,1269.77 L298.96,1269.72 L299.56,1269.66 L300.17,1269.61 L300.8,1269.55 L301.44,1269.49 L302.1,1269.44 L302.77,1269.38 L303.45,1269.32 L304.15,1269.26 L304.87,1269.2 L305.6,1269.14 L306.34,1269.07 L307.1,1269.01 L307.88,1268.94 L308.66,1268.88 L309.47,1268.81 L310.28,1268.74 L311.11,1268.68 L311.96,1268.61 L312.82,1268.54 L313.69,1268.47 L314.58,1268.4 L315.48,1268.33 L316.4,1268.25 L317.33,1268.18 L318.27,1268.11 L319.23,1268.03 L320.21,1267.96 L321.19,1267.88 L322.19,1267.81 L323.21,1267.73 L324.24,1267.65 L325.28,1267.58 L326.34,1267.5 L327.41,1267.42 L328.49,1267.34 L329.59,1267.26 L330.7,1267.18 L331.82,1267.1 L332.96,1267.02 L334.11,1266.94 L335.28,1266.86 L337.65,1266.7 L340.07,1266.53 L342.54,1266.36 L345.07,1266.2 L347.65,1266.03 L350.28,1265.86 L352.97,1265.69 L355.7,1265.52 L358.49,1265.35 L361.32,1265.18 L364.2,1265.01 L367.14,1264.84 L370.12,1264.67 L373.15,1264.5 L376.22,1264.34 L379.35,1264.17 L382.52,1264 L385.73,1263.83 L389,1263.67 L392.3,1263.5 L395.65,1263.34 L399.05,1263.18 L402.49,1263.02 L405.97,1262.86 L409.5,1262.7 L413.06,1262.54 L416.67,1262.39 L420.32,1262.23 L424.01,1262.08 L427.74,1261.93 L431.5,1261.78 L435.31,1261.64 L439.15,1261.49 L443.03,1261.35 L446.95,1261.21 L450.9,1261.07 L454.89,1260.93 L458.91,1260.8 L462.97,1260.67 L467.06,1260.54 L471.18,1260.41 L475.34,1260.29 L479.52,1260.16 L483.74,1260.04 L487.99,1259.93 L492.26,1259.81 L496.57,1259.7 L500.9,1259.59 L505.26,1259.48 L509.65,1259.38 L514.07,1259.27 L518.51,1259.17 L522.97,1259.08 L527.46,1258.98 L531.97,1258.89 L536.5,1258.8 L541.06,1258.71 L545.63,1258.63 L550.23,1258.55 L554.84,1258.47 L559.48,1258.4 L564.13,1258.33 L568.8,1258.26 L573.49,1258.19 L578.19,1258.13 L582.91,1258.07 L587.65,1258.01 L592.39,1257.95 L597.15,1257.9 L601.92,1257.85 L606.71,1257.81 L611.5,1257.77 L616.31,1257.73 L621.12,1257.69 L625.94,1257.66 L630.77,1257.63 L635.6,1257.6 L640.45,1257.58 L645.29,1257.56 L650.15,1257.54 L655,1257.53 L659.86,1257.51 L664.72,1257.51 L669.59,1257.5 L674.45,1257.5 L679.31,1257.5 L684.18,1257.51 L689.04,1257.51 L693.9,1257.53 L698.75,1257.54 L703.61,1257.56 L708.45,1257.58 L713.3,1257.6 L718.13,1257.63 L722.96,1257.66 L727.78,1257.69 L732.59,1257.73 L737.4,1257.77 L742.19,1257.81 L746.98,1257.85 L751.75,1257.9 L756.51,1257.95 L761.25,1258.01 L765.99,1258.07 L770.71,1258.13 L775.41,1258.19 L780.1,1258.26 L784.77,1258.33 L789.42,1258.4 L794.06,1258.47 L798.67,1258.55 L803.27,1258.63 L807.84,1258.71 L812.4,1258.8 L816.93,1258.89 L821.44,1258.98 L825.93,1259.08 L830.39,1259.17 L834.83,1259.27 L839.25,1259.38 L843.64,1259.48 L848,1259.59 L852.33,1259.7 L856.64,1259.81 L860.91,1259.93 L865.16,1260.04 L869.38,1260.16 L873.56,1260.29 L877.72,1260.41 L881.84,1260.54 L885.93,1260.67 L889.99,1260.8 L894.01,1260.93 L898,1261.07 L901.95,1261.21 L905.87,1261.35 L909.75,1261.49 L913.59,1261.64 L917.4,1261.78 L921.16,1261.93 L924.89,1262.08 L928.58,1262.23 L932.23,1262.39 L935.84,1262.54 L939.4,1262.7 L942.93,1262.86 L946.41,1263.02 L949.85,1263.18 L953.25,1263.34 L956.6,1263.5 L959.9,1263.67 L963.17,1263.83 L966.38,1264 L969.55,1264.17 L972.68,1264.34 L975.75,1264.5 L978.78,1264.67 L981.76,1264.84 L984.7,1265.01 L987.58,1265.18 L990.41,1265.35 L993.2,1265.52 L995.93,1265.69 L998.62,1265.86 L1001.25,1266.03 L1003.83,1266.2 L1006.36,1266.36 L1008.83,1266.53 L1011.25,1266.7 L1013.62,1266.86 L1014.79,1266.94 L1015.94,1267.02 L1017.08,1267.1 L1018.2,1267.18 L1019.31,1267.26 L1020.41,1267.34 L1021.49,1267.42 L1022.56,1267.5 L1023.62,1267.58 L1024.66,1267.65 L1025.69,1267.73 L1026.71,1267.81 L1027.71,1267.88 L1028.69,1267.96 L1029.67,1268.03 L1030.63,1268.11 L1031.57,1268.18 L1032.5,1268.25 L1033.42,1268.33 L1034.32,1268.4 L1035.21,1268.47 L1036.08,1268.54 L1036.94,1268.61 L1037.79,1268.68 L1038.62,1268.74 L1039.43,1268.81 L1040.24,1268.88 L1041.02,1268.94 L1041.8,1269.01 L1042.56,1269.07 L1043.3,1269.14 L1044.03,1269.2 L1044.75,1269.26 L1045.45,1269.32 L1046.13,1269.38 L1046.8,1269.44 L1047.46,1269.49 L1048.1,1269.55 L1048.73,1269.61 L1049.34,1269.66 L1049.94,1269.72 L1050.52,1269.77 L1051.09,1269.82 L1051.64,1269.87 L1052.18,1269.92 L1052.7,1269.97 L1053.21,1270.02 L1053.7,1270.06 L1054.18,1270.11 L1054.64,1270.15 L1055.09,1270.2 L1055.53,1270.24 L1055.94,1270.28 L1056.35,1270.32 L1056.73,1270.36 L1057.11,1270.39 L1057.47,1270.43 L1057.81,1270.47 L1058.14,1270.5 L1058.45,1270.53 L1058.75,1270.56 L1059.03,1270.6 L1059.29,1270.62 L1059.55,1270.65 L1059.78,1270.68 L1060,1270.7 L1060.21,1270.73 L1060.4,1270.75 L1060.58,1270.77 L1060.74,1270.79 L1060.88,1270.81 L1061.01,1270.83 L1061.13,1270.84 L1061.22,1270.86 L1061.31,1270.87 L1061.38,1270.88 L1061.43,1270.89 L1061.47,1270.89 L1061.49,1270.9 L1061.5,1270.9 L1061.49,1270.9 L1061.47,1270.91 L1061.43,1270.91 L1061.38,1270.92 L1061.31,1270.93 L1061.22,1270.94 L1061.13,1270.96 L1061.01,1270.97 L1060.88,1270.99 L1060.74,1271.01 L1060.58,1271.03 L1060.4,1271.05 L1060.21,1271.07 L1060,1271.1 L1059.78,1271.12 L1059.55,1271.15 L1059.29,1271.18 L1059.03,1271.2 L1058.75,1271.24 L1058.45,1271.27 L1058.14,1271.3 L1057.81,1271.33 L1057.47,1271.37 L1057.11,1271.41 L1056.73,1271.44 L1056.35,1271.48 L1055.94,1271.52 L1055.53,1271.56 L1055.09,1271.6 L1054.64,1271.65 L1054.18,1271.69 L1053.7,1271.74 L1053.21,1271.78 L1052.7,1271.83 L1052.18,1271.88 L1051.64,1271.93 L1051.09,1271.98 L1050.52,1272.03 L1049.94,1272.08 L1049.34,1272.14 L1048.73,1272.19 L1048.1,1272.25 L1047.46,1272.31 L1046.8,1272.36 L1046.13,1272.42 L1045.45,1272.48 L1044.75,1272.54 L1044.03,1272.6 L1043.3,1272.66 L1042.56,1272.73 L1041.8,1272.79 L1041.02,1272.86 L1040.24,1272.92 L1039.43,1272.99 L1038.62,1273.06 L1037.79,1273.12 L1036.94,1273.19 L1036.08,1273.26 L1035.21,1273.33 L1034.32,1273.4 L1033.42,1273.47 L1032.5,1273.55 L1031.57,1273.62 L1030.63,1273.69 L1029.67,1273.77 L1028.69,1273.84 L1027.71,1273.92 L1026.71,1273.99 L1025.69,1274.07 L1024.66,1274.15 L1023.62,1274.22 L1022.56,1274.3 L1021.49,1274.38 L1020.41,1274.46 L1019.31,1274.54 L1018.2,1274.62 L1017.08,1274.7 L1015.94,1274.78 L1014.79,1274.86 L1013.62,1274.94 L1011.25,1275.1 L1008.83,1275.27 L1006.36,1275.44 L1003.83,1275.6 L1001.25,1275.77 L998.62,1275.94 L995.93,1276.11 L993.2,1276.28 L990.41,1276.45 L987.58,1276.62 L984.7,1276.79 L981.76,1276.96 L978.78,1277.13 L975.75,1277.3 L972.68,1277.46 L969.55,1277.63 L966.38,1277.8 L963.17,1277.97 L959.9,1278.13 L956.6,1278.3 L953.25,1278.46 L949.85,1278.62 L946.41,1278.78 L942.93,1278.94 L939.4,1279.1 L935.84,1279.26 L932.23,1279.41 L928.58,1279.57 L924.89,1279.72 L921.16,1279.87 L917.4,1280.02 L913.59,1280.16 L909.75,1280.31 L905.87,1280.45 L901.95,1280.59 L898,1280.73 L894.01,1280.87 L889.99,1281 L885.93,1281.13 L881.84,1281.26 L877.72,1281.39 L873.56,1281.51 L869.38,1281.64 L865.16,1281.76 L860.91,1281.87 L856.64,1281.99 L852.33,1282.1 L848,1282.21 L843.64,1282.32 L839.25,1282.42 L834.83,1282.53 L830.39,1282.63 L825.93,1282.72 L821.44,1282.82 L816.93,1282.91 L812.4,1283 L807.84,1283.09 L803.27,1283.17 L798.67,1283.25 L794.06,1283.33 L789.42,1283.4 L784.77,1283.47 L780.1,1283.54 L775.41,1283.61 L770.71,1283.67 L765.99,1283.73 L761.25,1283.79 L756.51,1283.85 L751.75,1283.9 L746.98,1283.95 L742.19,1283.99 L737.4,1284.03 L732.59,1284.07 L727.78,1284.11 L722.96,1284.14 L718.13,1284.17 L713.3,1284.2 L708.45,1284.22 L703.61,1284.24 L698.75,1284.26 L693.9,1284.27 L689.04,1284.29 L684.18,1284.29 L679.31,1284.3 L674.45,1284.3 L669.59,1284.3 L664.72,1284.29 L659.86,1284.29 L655,1284.27 L650.15,1284.26 L645.29,1284.24 L640.45,1284.22 L635.6,1284.2 L630.77,1284.17 L625.94,1284.14 L621.12,1284.11 L616.31,1284.07 L611.5,1284.03 L606.71,1283.99 L601.92,1283.95 L597.15,1283.9 L592.39,1283.85 L587.65,1283.79 L582.91,1283.73 L578.19,1283.67 L573.49,1283.61 L568.8,1283.54 L564.13,1283.47 L559.48,1283.4 L554.84,1283.33 L550.23,1283.25 L545.63,1283.17 L541.06,1283.09 L536.5,1283 L531.97,1282.91 L527.46,1282.82 L522.97,1282.72 L518.51,1282.63 L514.07,1282.53 L509.65,1282.42 L505.26,1282.32 L500.9,1282.21 L496.57,1282.1 L492.26,1281.99 L487.99,1281.87 L483.74,1281.76 L479.52,1281.64 L475.34,1281.51 L471.18,1281.39 L467.06,1281.26 L462.97,1281.13 L458.91,1281 L454.89,1280.87 L450.9,1280.73 L446.95,1280.59 L443.03,1280.45 L439.15,1280.31 L435.31,1280.16 L431.5,1280.02 L427.74,1279.87 L424.01,1279.72 L420.32,1279.57 L416.67,1279.41 L413.06,1279.26 L409.5,1279.1 L405.97,1278.94 L402.49,1278.78 L399.05,1278.62 L395.65,1278.46 L392.3,1278.3 L389,1278.13 L385.73,1277.97 L382.52,1277.8 L379.35,1277.63 L376.22,1277.46 L373.15,1277.3 L370.12,1277.13 L367.14,1276.96 L364.2,1276.79 L361.32,1276.62 L358.49,1276.45 L355.7,1276.28 L352.97,1276.11 L350.28,1275.94 L347.65,1275.77 L345.07,1275.6 L342.54,1275.44 L340.07,1275.27 L337.65,1275.1 L335.28,1274.94 L334.11,1274.86 L332.96,1274.78 L331.82,1274.7 L330.7,1274.62 L329.59,1274.54 L328.49,1274.46 L327.41,1274.38 L326.34,1274.3 L325.28,1274.22 L324.24,1274.15 L323.21,1274.07 L322.19,1273.99 L321.19,1273.92 L320.21,1273.84 L319.23,1273.77 L318.27,1273.69 L317.33,1273.62 L316.4,1273.55 L315.48,1273.47 L314.58,1273.4 L313.69,1273.33 L312.82,1273.26 L311.96,1273.19 L311.11,1273.12 L310.28,1273.06 L309.47,1272.99 L308.66,1272.92 L307.88,1272.86 L307.1,1272.79 L306.34,1272.73 L305.6,1272.66 L304.87,1272.6 L304.15,1272.54 L303.45,1272.48 L302.77,1272.42 L302.1,1272.36 L301.44,1272.31 L300.8,1272.25 L300.17,1272.19 L299.56,1272.14 L298.96,1272.08 L298.38,1272.03 L297.81,1271.98 L297.26,1271.93 L296.72,1271.88 L296.2,1271.83 L295.69,1271.78 L295.2,1271.74 L294.72,1271.69 L294.26,1271.65 L293.81,1271.6 L293.37,1271.56 L292.96,1271.52 L292.55,1271.48 L292.17,1271.44 L291.79,1271.41 L291.43,1271.37 L291.09,1271.33 L290.76,1271.3 L290.45,1271.27 L290.15,1271.24 L289.87,1271.2 L289.61,1271.18 L289.35,1271.15 L289.12,1271.12 L288.9,1271.1 L288.69,1271.07 L288.5,1271.05 L288.32,1271.03 L288.16,1271.01 L288.02,1270.99 L287.89,1270.97 L287.77,1270.96 L287.68,1270.94 L287.59,1270.93 L287.52,1270.92 L287.47,1270.91 L287.43,1270.91 L287.41,1270.9 Z" fill="#fff" fill-rule="evenodd" stroke="#262626" stroke-width="2.7" stroke-linejoin="round"/>
<g font-family="'Liberation Sans', sans-serif" fill="#000">
<text transform="matrix(0.22935 0 0 0.21972 654.007 39.561)" font-size="200">6</text>
<path d="M683.34,7.8 L687.18,7.8 L683.23,18.3 Q682.48,19.1 681.24,19.1 Q680,19.1 680.2,18.1 Z"/>
<path d="M689.96,7.8 L693.8,7.8 L689.85,18.3 Q689.11,19.1 687.87,19.1 Q686.62,19.1 686.82,18.1 Z"/>
<path d="M462.3,109.4 Q462.7,108.8 463.8,108.8 L466,108.8 L466,140.8 L462.3,140.8 Z M463.1,109 L463.1,113.4 L458.1,116.4 Q455.9,117 455.9,115 Q456.1,113.7 457.5,113 Z"/>
<path d="M479.04,107.8 L482.88,107.8 L478.93,119.1 Q478.18,119.9 476.94,119.9 Q475.7,119.9 475.9,118.9 Z"/>
<path d="M485.66,107.8 L489.5,107.8 L485.55,119.1 Q484.81,119.9 483.57,119.9 Q482.32,119.9 482.52,118.9 Z"/>
<text transform="matrix(0.22055 0 0 0.23000 711.671 260.340)" font-size="200">Max.</text>
<text transform="matrix(0.21884 0 0 0.22925 813.612 260.341)" font-size="200">Chain</text>
<text transform="matrix(0.23152 0 0 0.20986 803.185 315.380)" font-size="200">6</text>
<path d="M830.2,286 L834.6,286 L833.6,298.6 L831.2,298.6 Z"/>
<text transform="matrix(0.23634 0 0 0.22138 1195.119 536.000)" font-size="200">Min.</text>
<text transform="matrix(0.22900 0 0 0.22319 1290.355 535.900)" font-size="200">4</text>
<path d="M1326.8,505.7 Q1327.2,505.1 1328.3,505.1 L1330.9,505.1 L1330.9,535.9 L1326.8,535.9 Z M1327.6,505.3 L1327.6,509.7 L1323.4,512.7 Q1321.2,513.3 1321.2,511.3 Q1321.4,510 1322.8,509.3 Z"/>
<path d="M1344.63,504.4 L1348.32,504.4 L1344.51,513.9 Q1343.79,514.7 1342.6,514.7 Q1341.4,514.7 1341.6,513.7 Z"/>
<path d="M1351.01,504.4 L1354.7,504.4 L1350.9,513.9 Q1350.18,514.7 1348.98,514.7 Q1347.78,514.7 1347.98,513.7 Z"/>
<rect x="1362.9" y="522.5" width="11.6" height="3.1"/>
<text transform="matrix(0.22256 0 0 0.23071 1191.939 591.539)" font-size="200">Max.</text>
<path d="M1305.6,561.4 Q1306,560.8 1307.1,560.8 L1309.8,560.8 L1309.8,591.5 L1305.6,591.5 Z M1306.4,561 L1306.4,565.4 L1301.9,568.4 Q1299.7,569 1299.7,567 Q1299.9,565.7 1301.3,565 Z"/>
<path d="M1330.2,561.4 Q1330.6,560.8 1331.7,560.8 L1334.4,560.8 L1334.4,591.5 L1330.2,591.5 Z M1331,561 L1331,565.4 L1326.5,568.4 Q1324.3,569 1324.3,567 Q1324.5,565.7 1325.9,565 Z"/>
<text transform="matrix(0.20000 0 0 0.21690 1344.500 591.466)" font-size="200">3</text>
<path d="M1372.54,560.1 L1376.11,560.1 L1372.42,569.6 Q1371.72,570.4 1370.56,570.4 Q1369.4,570.4 1369.6,569.4 Z"/>
<path d="M1378.73,560.1 L1382.3,560.1 L1378.61,569.6 Q1377.91,570.4 1376.75,570.4 Q1375.59,570.4 1375.79,569.4 Z"/>
<text transform="matrix(0.18830 0 0 0.19859 83.294 819.503)" font-size="200">3</text>
<text transform="matrix(0.19670 0 0 0.20942 105.333 820.600)" font-size="200">7</text>
<path d="M131.98,790.5 L135.61,790.5 L131.87,800.2 Q131.16,801 129.98,801 Q128.8,801 129,800 Z"/>
<path d="M138.27,790.5 L141.9,790.5 L138.15,800.2 Q137.45,801 136.27,801 Q135.09,801 135.29,800 Z"/>
<text transform="matrix(0.19410 0 0 0.20000 626.347 1457.300)" font-size="200">35.5</text>
<path d="M707.58,1428.6 L710.94,1428.6 L707.45,1438.2 Q706.8,1439 705.7,1439 Q704.6,1439 704.8,1438 Z"/>
<path d="M713.44,1428.6 L716.8,1428.6 L713.31,1438.2 Q712.65,1439 711.55,1439 Q710.46,1439 710.66,1438 Z"/>
</g>
</svg>
</body></html>
